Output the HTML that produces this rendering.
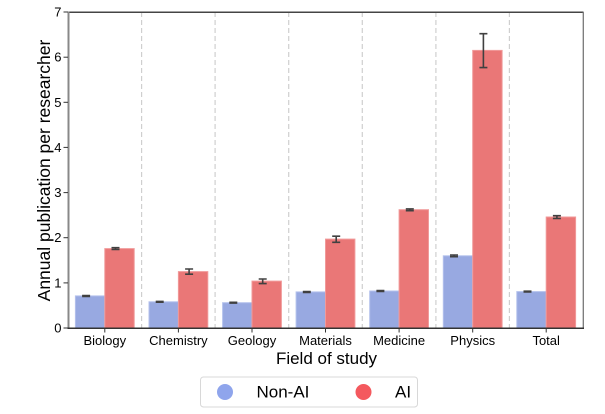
<!DOCTYPE html>
<html><head><meta charset="utf-8"><style>
html,body{margin:0;padding:0;background:#fff;}
svg{display:block;font-family:"Liberation Sans",Arial,sans-serif;}
</style></head><body>
<svg width="605" height="414" viewBox="0 0 605 414" xmlns="http://www.w3.org/2000/svg">
<rect width="605" height="414" fill="#fff"/>
<!-- separators -->
<g stroke="#cfcfcf" stroke-width="1.2" stroke-dasharray="5,3">
<line x1="141.6" y1="12" x2="141.6" y2="328"/>
<line x1="215.1" y1="12" x2="215.1" y2="328"/>
<line x1="288.7" y1="12" x2="288.7" y2="328"/>
<line x1="362.3" y1="12" x2="362.3" y2="328"/>
<line x1="435.9" y1="12" x2="435.9" y2="328"/>
<line x1="509.4" y1="12" x2="509.4" y2="328"/>
</g>
<!-- bars -->
<g stroke-width="1" >
<g fill="#98a9e1" stroke="#b4c1ec">
<rect x="75.4" y="295.9" width="29.4" height="32.1"/>
<rect x="149.0" y="301.8" width="29.4" height="26.2"/>
<rect x="222.6" y="302.7" width="29.4" height="25.3"/>
<rect x="296.1" y="291.9" width="29.4" height="36.1"/>
<rect x="369.7" y="291.0" width="29.4" height="37.0"/>
<rect x="443.3" y="255.8" width="29.4" height="72.2"/>
<rect x="516.8" y="291.6" width="29.4" height="36.4"/>
</g>
<g fill="#ea7777" stroke="#f09a9a">
<rect x="104.8" y="248.6" width="29.4" height="79.4"/>
<rect x="178.4" y="271.6" width="29.4" height="56.4"/>
<rect x="252.0" y="281.1" width="29.4" height="46.9"/>
<rect x="325.5" y="239.1" width="29.4" height="88.9"/>
<rect x="399.1" y="209.7" width="29.4" height="118.3"/>
<rect x="472.7" y="50.4" width="29.4" height="277.6"/>
<rect x="546.2" y="217.0" width="29.4" height="111.0"/>
</g>
</g>
<!-- error bars -->
<g stroke="#404040" stroke-width="1.6" fill="none">
<path d="M86.1 295.5V296.4M82.1 295.5H90.1M82.1 296.4H90.1"/>
<path d="M159.7 301.4V302.2M155.7 301.4H163.7M155.7 302.2H163.7"/>
<path d="M233.3 302.3V303.1M229.3 302.3H237.3M229.3 303.1H237.3"/>
<path d="M306.8 291.5V292.4M302.8 291.5H310.8M302.8 292.4H310.8"/>
<path d="M380.4 290.6V291.4M376.4 290.6H384.4M376.4 291.4H384.4"/>
<path d="M454.0 255.0V256.7M450.0 255.0H458.0M450.0 256.7H458.0"/>
<path d="M527.5 291.2V292.0M523.5 291.2H531.5M523.5 292.0H531.5"/>

<path d="M115.5 247.7V249.5M111.5 247.7H119.5M111.5 249.5H119.5"/>
<path d="M189.1 269.0V274.2M185.1 269.0H193.1M185.1 274.2H193.1"/>
<path d="M262.7 279.0V283.6M258.7 279.0H266.7M258.7 283.6H266.7"/>
<path d="M336.2 236.2V242.3M332.2 236.2H340.2M332.2 242.3H340.2"/>
<path d="M409.8 208.9V210.7M405.8 208.9H413.8M405.8 210.7H413.8"/>
<path d="M483.4 33.7V67.6M479.4 33.7H487.4M479.4 67.6H487.4"/>
<path d="M556.9 215.7V218.4M552.9 215.7H560.9M552.9 218.4H560.9"/>
</g>
<!-- spines -->
<line x1="68" y1="12.3" x2="583.5" y2="12.3" stroke="#444" stroke-width="1.5"/>
<line x1="583.3" y1="12" x2="583.3" y2="328.5" stroke="#777" stroke-width="1.3"/>
<line x1="68.5" y1="11.5" x2="68.5" y2="329" stroke="#888" stroke-width="2"/>
<line x1="67.5" y1="328.3" x2="584" y2="328.3" stroke="#333" stroke-width="1.5"/>
<!-- y ticks -->
<g stroke="#333" stroke-width="1">
<line x1="63.5" y1="328" x2="68" y2="328"/>
<line x1="63.5" y1="282.9" x2="68" y2="282.9"/>
<line x1="63.5" y1="237.7" x2="68" y2="237.7"/>
<line x1="63.5" y1="192.6" x2="68" y2="192.6"/>
<line x1="63.5" y1="147.4" x2="68" y2="147.4"/>
<line x1="63.5" y1="102.3" x2="68" y2="102.3"/>
<line x1="63.5" y1="57.2" x2="68" y2="57.2"/>
<line x1="63.5" y1="12" x2="68" y2="12"/>
</g>
<g font-size="13" fill="#000" text-anchor="end">
<text x="61.5" y="332.5">0</text>
<text x="61.5" y="287.4">1</text>
<text x="61.5" y="242.2">2</text>
<text x="61.5" y="197.1">3</text>
<text x="61.5" y="151.9">4</text>
<text x="61.5" y="106.8">5</text>
<text x="61.5" y="61.7">6</text>
<text x="61.5" y="16.5">7</text>
</g>
<!-- x ticks -->
<g stroke="#333" stroke-width="1">
<line x1="104.8" y1="328" x2="104.8" y2="332.5"/>
<line x1="178.4" y1="328" x2="178.4" y2="332.5"/>
<line x1="252.0" y1="328" x2="252.0" y2="332.5"/>
<line x1="325.5" y1="328" x2="325.5" y2="332.5"/>
<line x1="399.1" y1="328" x2="399.1" y2="332.5"/>
<line x1="472.7" y1="328" x2="472.7" y2="332.5"/>
<line x1="546.2" y1="328" x2="546.2" y2="332.5"/>
</g>
<g font-size="13" fill="#000" text-anchor="middle">
<text x="104.8" y="345">Biology</text>
<text x="178.4" y="345">Chemistry</text>
<text x="252.0" y="345">Geology</text>
<text x="325.5" y="345">Materials</text>
<text x="399.1" y="345">Medicine</text>
<text x="472.7" y="345">Physics</text>
<text x="546.2" y="345">Total</text>
</g>
<text x="326.5" y="364" font-size="17" text-anchor="middle" fill="#000">Field of study</text>
<text transform="translate(50,170.5) rotate(-90)" font-size="17.5" text-anchor="middle" fill="#000">Annual publication per researcher</text>
<!-- legend -->
<rect x="200.5" y="377" width="217" height="30" rx="3" fill="#fff" stroke="#d8d8d8" stroke-width="1"/>
<circle cx="225" cy="392" r="8" fill="#8fa5ec"/>
<text x="256.5" y="397.5" font-size="17" fill="#000">Non-AI</text>
<circle cx="363.5" cy="392" r="8" fill="#f4595e"/>
<text x="395" y="397.5" font-size="17" fill="#000">AI</text>
</svg>
</body></html>
